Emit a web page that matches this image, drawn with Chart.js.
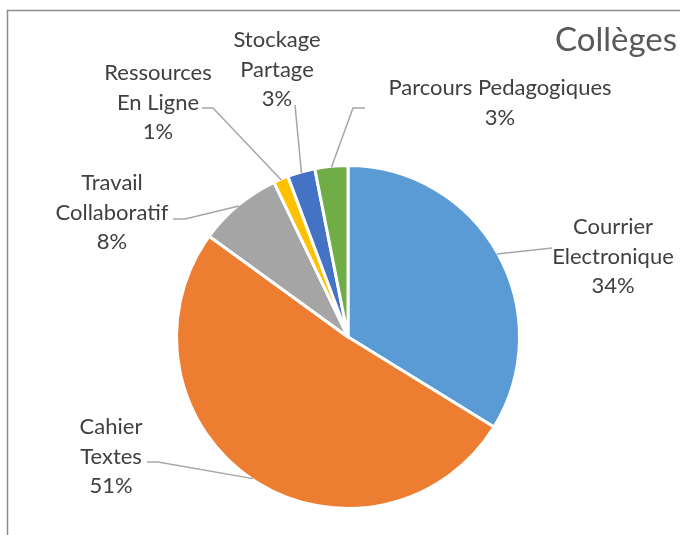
<!DOCTYPE html>
<html>
<head>
<meta charset="utf-8">
<script src="https://cdn.jsdelivr.net/npm/chart.js@4"></script>
<style>
  body { margin: 0; background: #fff; }
  #wrap { width: 680px; height: 535px; }
</style>
</head>
<body>
<div id="wrap"><canvas id="pieColleges" width="680" height="535"></canvas></div>
<script>
// donnees du graphique
var title = 'Collèges';
var categories = [
    ['Courrier', 'Electronique'],
    ['Cahier', 'Textes'],
    ['Travail', 'Collaboratif'],
    ['Ressources', 'En Ligne'],
    ['Stockage', 'Partage'],
    ['Parcours Pedagogiques']
];
var values = [33.8, 51.2, 7.9, 1.4, 2.6, 3.1];
var colors = ['#5B9BD5', '#ED7D31', '#A5A5A5', '#FFC000', '#4472C4', '#70AD47'];

// position des etiquettes (centre du texte, 1ere ligne) et coude du trait
var labelPos = [
    { x: 613, y: 227, elbow: [552, 248], end: [552, 248] },
    { x: 111, y: 427, elbow: [158, 462], end: [147, 462] },
    { x: 112, y: 183, elbow: [185, 219], end: [173, 219] },
    { x: 158, y: 73,  elbow: [213, 108], end: [202, 108] },
    { x: 277, y: 40,  elbow: [295, 105], end: [295, 105] },
    { x: 500, y: 88,  elbow: [353, 108], end: [365, 108] }
];

var total = values.reduce(function (a, b) { return a + b; }, 0);

var labelsPlugin = {
    id: 'excelLabels',
    afterDraw: function (chart) {
        var ctx = chart.ctx;
        ctx.save();

        // cadre
        ctx.strokeStyle = '#8c8c8c';
        ctx.lineWidth = 1.5;
        ctx.strokeRect(7.5, 10.5, 700, 600);

        // titre
        ctx.fillStyle = '#595959';
        ctx.font = '33px Lato';
        ctx.textAlign = 'left';
        ctx.textBaseline = 'middle';
        ctx.fillText(title, 555, 40);

        var meta = chart.getDatasetMeta(0);
        meta.data.forEach(function (arc, i) {
            var p = arc.getProps(['x', 'y', 'startAngle', 'endAngle', 'outerRadius'], true);
            var mid = (p.startAngle + p.endAngle) / 2;
            var r = p.outerRadius - 1;
            var sx = p.x + Math.cos(mid) * r;
            var sy = p.y + Math.sin(mid) * r;
            var lp = labelPos[i];

            ctx.strokeStyle = '#a6a6a6';
            ctx.lineWidth = 1.5;
            ctx.beginPath();
            ctx.moveTo(sx, sy);
            ctx.lineTo(lp.elbow[0], lp.elbow[1]);
            ctx.lineTo(lp.end[0], lp.end[1]);
            ctx.stroke();

            var lines = categories[i].slice();
            lines.push(Math.round(values[i] / total * 100) + '%');
            ctx.fillStyle = '#404040';
            ctx.font = '22px Lato';
            ctx.textAlign = 'center';
            ctx.textBaseline = 'middle';
            lines.forEach(function (t, k) {
                ctx.fillText(t, lp.x, lp.y + k * 29.5);
            });
        });
        ctx.restore();
    }
};

var chartdata = {
    labels: categories,
    datasets: [{
        data: values,
        backgroundColor: colors,
        borderColor: '#ffffff',
        borderWidth: 3
    }]
};

var pie = new Chart(document.getElementById('pieColleges'), {
    type: 'pie',
    data: chartdata,
    options: {
        responsive: false,
        animation: false,
        layout: { padding: { left: 175, right: 159, top: 164, bottom: 25 } },
        plugins: {
            legend: { display: false },
            tooltip: { enabled: false }
        }
    },
    plugins: [labelsPlugin]
});
</script>
</body>
</html>
